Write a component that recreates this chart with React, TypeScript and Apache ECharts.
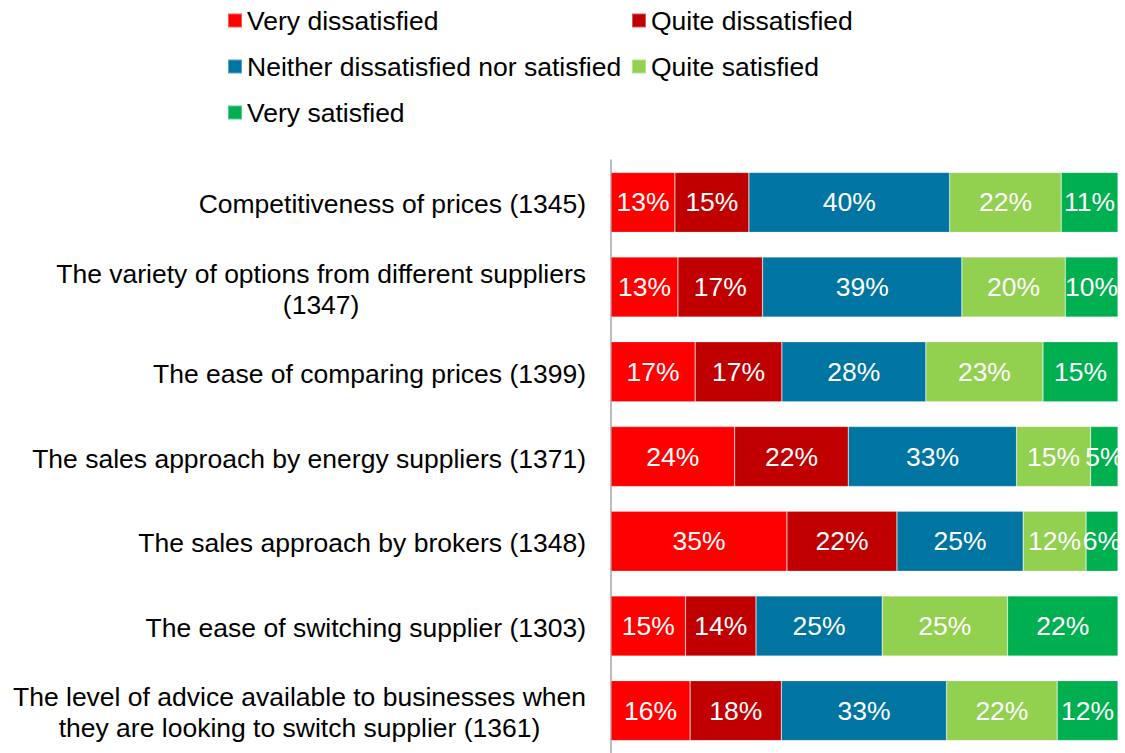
import React, { useEffect, useRef } from "react";
import * as echarts from "echarts";

const categories = [
  "Competitiveness of prices (1345)",
  "The variety of options from different suppliers\n(1347)",
  "The ease of comparing prices (1399)",
  "The sales approach by energy suppliers (1371)",
  "The sales approach by brokers (1348)",
  "The ease of switching supplier (1303)",
  "The level of advice available to businesses when\nthey are looking to switch supplier (1361)",
];

const seriesNames = [
  "Very dissatisfied",
  "Quite dissatisfied",
  "Neither dissatisfied nor satisfied",
  "Quite satisfied",
  "Very satisfied",
];

const veryDissatisfied = [12.6, 13.2, 16.6, 24.4, 34.7, 14.7, 15.6];
const quiteDissatisfied = [14.6, 16.7, 17.1, 22.4, 21.7, 13.9, 18.0];
const neither = [39.6, 39.3, 28.4, 33.2, 24.9, 24.9, 32.6];
const quiteSatisfied = [22.0, 20.4, 23.1, 14.6, 12.4, 24.7, 21.8];
const verySatisfied = [11.2, 10.4, 14.8, 5.4, 6.3, 21.8, 12.0];

const seriesValues = [veryDissatisfied, quiteDissatisfied, neither, quiteSatisfied, verySatisfied];
const colors = ["#FF0000", "#C00000", "#0075A2", "#92D050", "#00B050"];

const FONT = '"Liberation Sans", Arial, sans-serif';
const FS = 26.5;

export default function App() {
  const ref = useRef<HTMLDivElement>(null);
  useEffect(() => {
    if (!ref.current) return;
    const chart = echarts.init(ref.current, undefined, { renderer: "svg" });
    const legendText = { fontSize: FS, fontFamily: FONT, color: "#000", lineHeight: 26 };
    const legendBase = {
      orient: "vertical",
      top: 7,
      padding: 0,
      itemWidth: 14,
      itemHeight: 14,
      itemGap: 19,
      icon: "rect",
      selectedMode: false,
      textStyle: legendText,
    };
    chart.setOption({
      animation: false,
      textStyle: { fontFamily: FONT },
      legend: [
        { ...legendBase, left: 227, data: [seriesNames[0], seriesNames[2], seriesNames[4]] },
        { ...legendBase, left: 631, data: [seriesNames[1], seriesNames[3]] },
      ],
      grid: { left: 611, right: 7, top: 160, height: 598.5, containLabel: false },
      xAxis: {
        type: "value",
        min: 0,
        max: 100,
        show: false,
      },
      yAxis: {
        type: "category",
        inverse: true,
        data: categories,
        axisLine: { show: true, lineStyle: { color: "#A6A6A6", width: 1.5 } },
        axisTick: { show: false },
        splitLine: { show: false },
        axisLabel: {
          margin: 25,
          color: "#000",
          fontSize: FS,
          fontFamily: FONT,
          padding: [4, 0, 0, 0],
          formatter: (v: string) => `{c|${v}}`,
          rich: {
            c: { align: "center", fontSize: FS, fontFamily: FONT, color: "#000", lineHeight: 31 },
          },
        },
      },
      series: seriesNames.map((name, i) => ({
        name,
        type: "bar",
        stack: "total",
        barWidth: 60,
        itemStyle: { color: colors[i], borderColor: "rgba(255,255,255,0.35)", borderWidth: 0.6 },
        label: {
          show: true,
          position: "inside",
          color: "#fff",
          fontSize: FS,
          fontFamily: FONT,
          formatter: (p: any) => `${Math.round(p.value)}%`,
        },
        data: seriesValues[i],
      })),
    });
    return () => chart.dispose();
  }, []);
  return (
    <div
      ref={ref}
      style={{ position: "fixed", left: 0, top: 0, width: 1125, height: 753, background: "#fff" }}
    />
  );
}
